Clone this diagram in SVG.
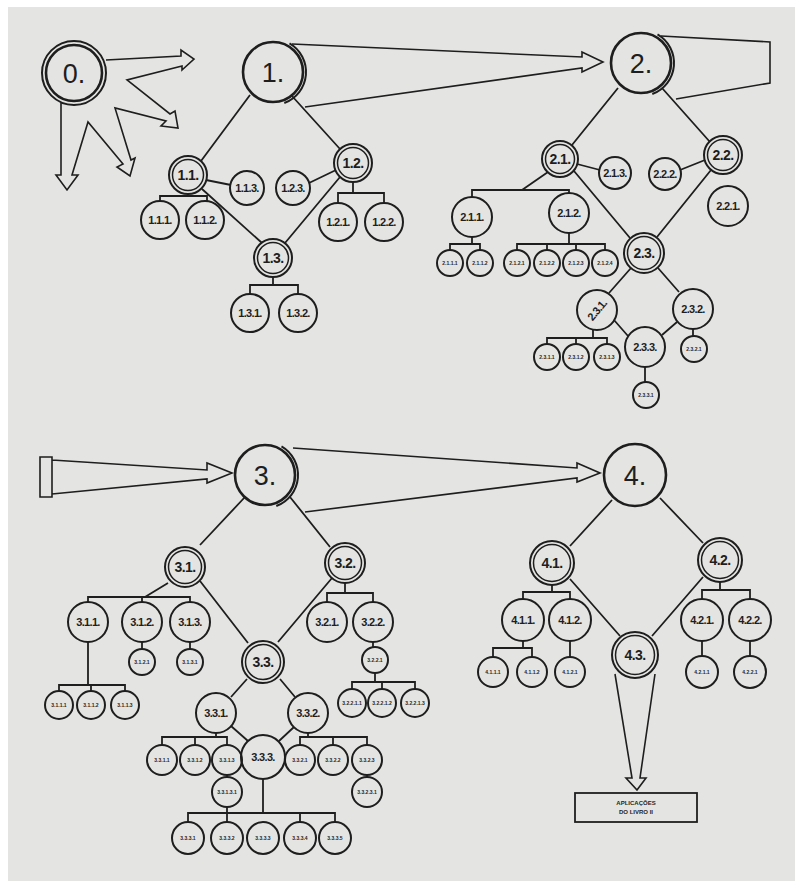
<svg xmlns="http://www.w3.org/2000/svg" width="795" height="881" viewBox="0 0 795 881">
<style>
.bg{fill:#e4e4e2}
.c{fill:none;stroke:#1e1e1e;stroke-width:2}
.cb{fill:none;stroke:#1e1e1e;stroke-width:2.6}
.ci{fill:none;stroke:#1e1e1e;stroke-width:1.5}
.l{fill:none;stroke:#1e1e1e;stroke-width:1.8;stroke-linejoin:miter}
.a{fill:none;stroke:#1e1e1e;stroke-width:1.6;stroke-linejoin:miter}
text{font-family:"Liberation Sans",Arial,sans-serif;fill:#1e1e1e;text-anchor:middle;dominant-baseline:central}
.tb{font-size:27px}
.tm{font-size:14px;font-weight:bold;letter-spacing:-0.6px}
.ts{font-size:11px;font-weight:bold;letter-spacing:-0.7px}
.tx{font-size:5px;font-weight:bold}
.tbox{font-size:6px;font-weight:bold}
</style>
<rect x="0" y="0" width="795" height="881" fill="#ffffff"/>
<rect class="bg" x="8" y="7" width="787" height="874"/>

<g id="connectors">
  <path class="a" d="M106,60 L181,56 L181,50 L194,59 L182,70 L182,66 L127,80 L170,114 L175,111 L178,128 L161,126 L166,121 L115,108 L131,160 L135,158 L130,176 L117,167 L123,164 L88,122 L72,175 L78,175 L67,190 L56,175 L61,175 L61,103"/>
  <path class="a" d="M292,44 L582,57 L582,52 L603,62 L582,72 L582,68 L305,107"/>
  <path class="a" d="M661,36 L770,42 L770,83 L676,99"/>
  <path class="l" d="M250,95 L201,161 M292,96 L340,149 M206,180 L231,185 M336,170 L309,183"/>
  <path class="l" d="M188,194 V196 M160,201 V196 H207 V201 M353,182 V193 M338,203 V193 H384 V203"/>
  <path class="l" d="M202,189 L262,243 M340,177 L285,243 M273,277 V285 M250,294 V285 H298 V294"/>
  <path class="l" d="M618,88 L572,145 M662,88 L710,142 M577,164 L600,170 M705,160 L680,170"/>
  <path class="l" d="M548,172 L522,190 M472,197 V190 H569 V193"/>
  <path class="l" d="M472,237 V244 M450,250 V244 H480 V250 M569,233 V244 M517,250 V244 H605 V250 M547,244 V250 M576,244 V250"/>
  <path class="l" d="M574,171 L630,238 M711,170 L657,237 M631,268 L609,293 M658,268 L679,292 M614,320 L628,336 M677,322 L662,335"/>
  <path class="l" d="M593,330 V338 M547,344 V338 H607 V344 M576,338 V344 M693,329 V336 M645,367 V382"/>
  <path class="a" d="M40,457 H52 V497 H40 Z M52,460 L207,470 L207,463 L232,473 L207,483 L207,479 L52,494"/>
  <path class="a" d="M293,448 L577,468 L577,463 L600,473 L577,482 L577,478 L305,512"/>
  <path class="l" d="M245,497 L200,545 M290,497 L330,547"/>
  <path class="l" d="M168,583 L145,597 M88,602 V597 H190 V602 M142,597 V602 M142,642 V649 M190,642 V649"/>
  <path class="l" d="M88,642 V685 M59,691 V685 H125 V691 M91,685 V691"/>
  <path class="l" d="M200,581 L248,643 M332,578 L278,642 M345,583 V593 M327,602 V593 H373 V602 M373,642 V647"/>
  <path class="l" d="M375,673 V682 M352,689 V682 H415 V689 M382,682 V689"/>
  <path class="l" d="M247,679 L231,697 M280,679 L295,697 M231,726 L248,741 M294,727 L279,741"/>
  <path class="l" d="M216,733 V737 M162,745 V737 H227 V745 M195,737 V745 M227,775 V777"/>
  <path class="l" d="M308,733 V737 M300,745 V737 H367 V745 M333,737 V745 M367,775 V777"/>
  <path class="l" d="M263,779 V813 M188,822 V813 H335 V822 M227,807 V822 M300,813 V822"/>
  <path class="l" d="M612,500 L570,546 M660,498 L703,543 M552,585 V592 M523,599 V592 H570 V599 M720,582 V590 M702,599 V590 H750 V599"/>
  <path class="l" d="M570,579 L620,636 M703,577 L652,636"/>
  <path class="l" d="M523,641 V648 M493,657 V648 H532 V657 M570,641 V657 M702,641 V656 M750,641 V656"/>
  <path class="a" d="M615,674 L632,778 L626,778 L637,790 L646,778 L640,778 L655,674"/>
</g>

<g id="n0"><circle class="c" cx="74" cy="73" r="32"/><circle class="cb" cx="74" cy="73" r="28"/><text class="tb" x="74" y="74">0.</text></g>
<g id="n1"><circle class="cb" cx="273" cy="72" r="30"/><path class="c" d="M289.5,43.4 A33,33 0 0 1 284.3,103"/><text class="tb" x="273" y="73">1.</text></g>
<g id="n2"><circle class="cb" cx="641" cy="63" r="30"/><path class="c" d="M657.5,34.4 A33,33 0 0 1 652.3,94"/><text class="tb" x="641" y="64">2.</text></g>
<g id="n3"><circle class="cb" cx="265" cy="475" r="30"/><path class="c" d="M281.5,446.4 A33,33 0 0 1 276.3,506"/><text class="tb" x="265" y="476">3.</text></g>
<g id="n4"><circle class="cb" cx="635" cy="475" r="31"/><text class="tb" x="635" y="476">4.</text></g>

<g id="n11"><circle class="c" cx="188" cy="175" r="19"/><circle class="ci" cx="188" cy="175" r="15.5"/><text class="tm" x="188" y="175">1.1.</text></g>
<g id="n12"><circle class="c" cx="353" cy="163" r="19"/><circle class="ci" cx="353" cy="163" r="15.5"/><text class="tm" x="353" y="163">1.2.</text></g>
<g id="n113"><circle class="c" cx="247" cy="188" r="17"/><text class="ts" x="247" y="188">1.1.3.</text></g>
<g id="n123"><circle class="c" cx="293" cy="188" r="17"/><text class="ts" x="293" y="188">1.2.3.</text></g>
<g id="n111"><circle class="c" cx="160" cy="220" r="19"/><text class="ts" x="160" y="220">1.1.1.</text></g>
<g id="n112"><circle class="c" cx="205" cy="220" r="19"/><text class="ts" x="205" y="220">1.1.2.</text></g>
<g id="n121"><circle class="c" cx="338" cy="222" r="19"/><text class="ts" x="338" y="222">1.2.1.</text></g>
<g id="n122"><circle class="c" cx="384" cy="222" r="19"/><text class="ts" x="384" y="222">1.2.2.</text></g>
<g id="n13"><circle class="c" cx="273" cy="258" r="19"/><circle class="ci" cx="273" cy="258" r="15.5"/><text class="tm" x="273" y="258">1.3.</text></g>
<g id="n131"><circle class="c" cx="250" cy="313" r="19"/><text class="ts" x="250" y="313">1.3.1.</text></g>
<g id="n132"><circle class="c" cx="298" cy="313" r="19"/><text class="ts" x="298" y="313">1.3.2.</text></g>

<g id="n21"><circle class="c" cx="560" cy="159" r="18"/><circle class="ci" cx="560" cy="159" r="14.5"/><text class="tm" x="560" y="159">2.1.</text></g>
<g id="n22"><circle class="c" cx="723" cy="155" r="19"/><circle class="ci" cx="723" cy="155" r="15.5"/><text class="tm" x="723" y="155">2.2.</text></g>
<g id="n213"><circle class="c" cx="615" cy="173" r="16"/><text class="ts" x="615" y="173">2.1.3.</text></g>
<g id="n222"><circle class="c" cx="665" cy="174" r="16"/><text class="ts" x="665" y="174">2.2.2.</text></g>
<g id="n211"><circle class="c" cx="472" cy="217" r="20"/><text class="ts" x="472" y="217">2.1.1.</text></g>
<g id="n212"><circle class="c" cx="569" cy="213" r="20"/><text class="ts" x="569" y="213">2.1.2.</text></g>
<g id="n221"><circle class="c" cx="728" cy="206" r="20"/><text class="ts" x="728" y="206">2.2.1.</text></g>
<g id="n23"><circle class="c" cx="644" cy="253" r="20"/><circle class="ci" cx="644" cy="253" r="16.5"/><text class="tm" x="644" y="253">2.3.</text></g>
<g id="n231"><circle class="c" cx="597" cy="310" r="20"/><text class="ts" x="597" y="310" transform="rotate(-50 597 310)">2.3.1.</text></g>
<g id="n232"><circle class="c" cx="693" cy="309" r="20"/><text class="ts" x="693" y="309">2.3.2.</text></g>
<g id="n233"><circle class="c" cx="645" cy="347" r="20"/><text class="ts" x="645" y="347">2.3.3.</text></g>
<g id="n2111"><circle class="c" cx="450" cy="263" r="13"/><text class="tx" x="450" y="263">2.1.1.1</text></g>
<g id="n2112"><circle class="c" cx="480" cy="263" r="13"/><text class="tx" x="480" y="263">2.1.1.2</text></g>
<g id="n2121"><circle class="c" cx="517" cy="263" r="13"/><text class="tx" x="517" y="263">2.1.2.1</text></g>
<g id="n2122"><circle class="c" cx="547" cy="263" r="13"/><text class="tx" x="547" y="263">2.1.2.2</text></g>
<g id="n2123"><circle class="c" cx="576" cy="263" r="13"/><text class="tx" x="576" y="263">2.1.2.3</text></g>
<g id="n2124"><circle class="c" cx="605" cy="263" r="13"/><text class="tx" x="605" y="263">2.1.2.4</text></g>
<g id="n2311"><circle class="c" cx="547" cy="357" r="13"/><text class="tx" x="547" y="357">2.3.1.1</text></g>
<g id="n2312"><circle class="c" cx="576" cy="357" r="13"/><text class="tx" x="576" y="357">2.3.1.2</text></g>
<g id="n2313"><circle class="c" cx="607" cy="357" r="13"/><text class="tx" x="607" y="357">2.3.1.3</text></g>
<g id="n2321"><circle class="c" cx="694" cy="349" r="13"/><text class="tx" x="694" y="349">2.3.2.1</text></g>
<g id="n2331"><circle class="c" cx="646" cy="395" r="13"/><text class="tx" x="646" y="395">2.3.3.1</text></g>

<g id="n31"><circle class="c" cx="185" cy="567" r="20"/><circle class="ci" cx="185" cy="567" r="16.5"/><text class="tm" x="185" y="567">3.1.</text></g>
<g id="n32"><circle class="c" cx="345" cy="563" r="20"/><circle class="ci" cx="345" cy="563" r="16.5"/><text class="tm" x="345" y="563">3.2.</text></g>
<g id="n311"><circle class="c" cx="88" cy="622" r="20"/><text class="ts" x="88" y="622">3.1.1.</text></g>
<g id="n312"><circle class="c" cx="142" cy="622" r="20"/><text class="ts" x="142" y="622">3.1.2.</text></g>
<g id="n313"><circle class="c" cx="190" cy="622" r="20"/><text class="ts" x="190" y="622">3.1.3.</text></g>
<g id="n3121"><circle class="c" cx="142" cy="662" r="13"/><text class="tx" x="142" y="662">3.1.2.1</text></g>
<g id="n3131"><circle class="c" cx="190" cy="662" r="13"/><text class="tx" x="190" y="662">3.1.3.1</text></g>
<g id="n3111"><circle class="c" cx="59" cy="705" r="14"/><text class="tx" x="59" y="705">3.1.1.1</text></g>
<g id="n3112"><circle class="c" cx="91" cy="705" r="14"/><text class="tx" x="91" y="705">3.1.1.2</text></g>
<g id="n3113"><circle class="c" cx="125" cy="705" r="14"/><text class="tx" x="125" y="705">3.1.1.3</text></g>
<g id="n321"><circle class="c" cx="327" cy="622" r="20"/><text class="ts" x="327" y="622">3.2.1.</text></g>
<g id="n322"><circle class="c" cx="373" cy="622" r="20"/><text class="ts" x="373" y="622">3.2.2.</text></g>
<g id="n3221"><circle class="c" cx="375" cy="660" r="13"/><text class="tx" x="375" y="660">3.2.2.1</text></g>
<g id="n32211"><circle class="c" cx="352" cy="703" r="14"/><text class="tx" x="352" y="703">3.2.2.1.1</text></g>
<g id="n32212"><circle class="c" cx="382" cy="703" r="14"/><text class="tx" x="382" y="703">3.2.2.1.2</text></g>
<g id="n32213"><circle class="c" cx="415" cy="703" r="14"/><text class="tx" x="415" y="703">3.2.2.1.3</text></g>
<g id="n33"><circle class="c" cx="263" cy="662" r="21"/><circle class="ci" cx="263" cy="662" r="17.5"/><text class="tm" x="263" y="662">3.3.</text></g>
<g id="n331"><circle class="c" cx="216" cy="713" r="20"/><text class="ts" x="216" y="713">3.3.1.</text></g>
<g id="n332"><circle class="c" cx="308" cy="713" r="20"/><text class="ts" x="308" y="713">3.3.2.</text></g>
<g id="n333"><circle class="c" cx="263" cy="757" r="22"/><text class="ts" x="263" y="757">3.3.3.</text></g>
<g id="n3311"><circle class="c" cx="162" cy="760" r="15"/><text class="tx" x="162" y="760">3.3.1.1</text></g>
<g id="n3312"><circle class="c" cx="195" cy="760" r="15"/><text class="tx" x="195" y="760">3.3.1.2</text></g>
<g id="n3313"><circle class="c" cx="227" cy="760" r="15"/><text class="tx" x="227" y="760">3.3.1.3</text></g>
<g id="n33131"><circle class="c" cx="227" cy="792" r="15"/><text class="tx" x="227" y="792">3.3.1.3.1</text></g>
<g id="n3321"><circle class="c" cx="300" cy="760" r="15"/><text class="tx" x="300" y="760">3.3.2.1</text></g>
<g id="n3322"><circle class="c" cx="333" cy="760" r="15"/><text class="tx" x="333" y="760">3.3.2.2</text></g>
<g id="n3323"><circle class="c" cx="367" cy="760" r="15"/><text class="tx" x="367" y="760">3.3.2.3</text></g>
<g id="n33231"><circle class="c" cx="367" cy="792" r="15"/><text class="tx" x="367" y="792">3.3.2.3.1</text></g>
<g id="n3331"><circle class="c" cx="188" cy="838" r="16"/><text class="tx" x="188" y="838">3.3.3.1</text></g>
<g id="n3332"><circle class="c" cx="227" cy="838" r="16"/><text class="tx" x="227" y="838">3.3.3.2</text></g>
<g id="n3333"><circle class="c" cx="263" cy="838" r="16"/><text class="tx" x="263" y="838">3.3.3.3</text></g>
<g id="n3334"><circle class="c" cx="300" cy="838" r="16"/><text class="tx" x="300" y="838">3.3.3.4</text></g>
<g id="n3335"><circle class="c" cx="335" cy="838" r="16"/><text class="tx" x="335" y="838">3.3.3.5</text></g>

<g id="n41"><circle class="c" cx="552" cy="563" r="22"/><circle class="ci" cx="552" cy="563" r="18.5"/><text class="tm" x="552" y="563">4.1.</text></g>
<g id="n42"><circle class="c" cx="720" cy="560" r="22"/><circle class="ci" cx="720" cy="560" r="18.5"/><text class="tm" x="720" y="560">4.2.</text></g>
<g id="n411"><circle class="c" cx="523" cy="620" r="21"/><text class="ts" x="523" y="620">4.1.1.</text></g>
<g id="n412"><circle class="c" cx="570" cy="620" r="21"/><text class="ts" x="570" y="620">4.1.2.</text></g>
<g id="n421"><circle class="c" cx="702" cy="620" r="21"/><text class="ts" x="702" y="620">4.2.1.</text></g>
<g id="n422"><circle class="c" cx="750" cy="620" r="21"/><text class="ts" x="750" y="620">4.2.2.</text></g>
<g id="n4111"><circle class="c" cx="493" cy="672" r="15"/><text class="tx" x="493" y="672">4.1.1.1</text></g>
<g id="n4112"><circle class="c" cx="532" cy="672" r="15"/><text class="tx" x="532" y="672">4.1.1.2</text></g>
<g id="n4121"><circle class="c" cx="570" cy="672" r="15"/><text class="tx" x="570" y="672">4.1.2.1</text></g>
<g id="n4211"><circle class="c" cx="702" cy="672" r="16"/><text class="tx" x="702" y="672">4.2.1.1</text></g>
<g id="n4221"><circle class="c" cx="750" cy="672" r="16"/><text class="tx" x="750" y="672">4.2.2.1</text></g>
<g id="n43"><circle class="c" cx="635" cy="655" r="23"/><circle class="ci" cx="635" cy="655" r="19.5"/><text class="tm" x="635" y="655">4.3.</text></g>
<g id="box"><rect x="575" y="793" width="122" height="29" fill="none" stroke="#1e1e1e" stroke-width="1.8"/><text class="tbox" x="636" y="803">APLICAÇÕES</text><text class="tbox" x="636" y="812">DO LIVRO II</text></g>
</svg>
